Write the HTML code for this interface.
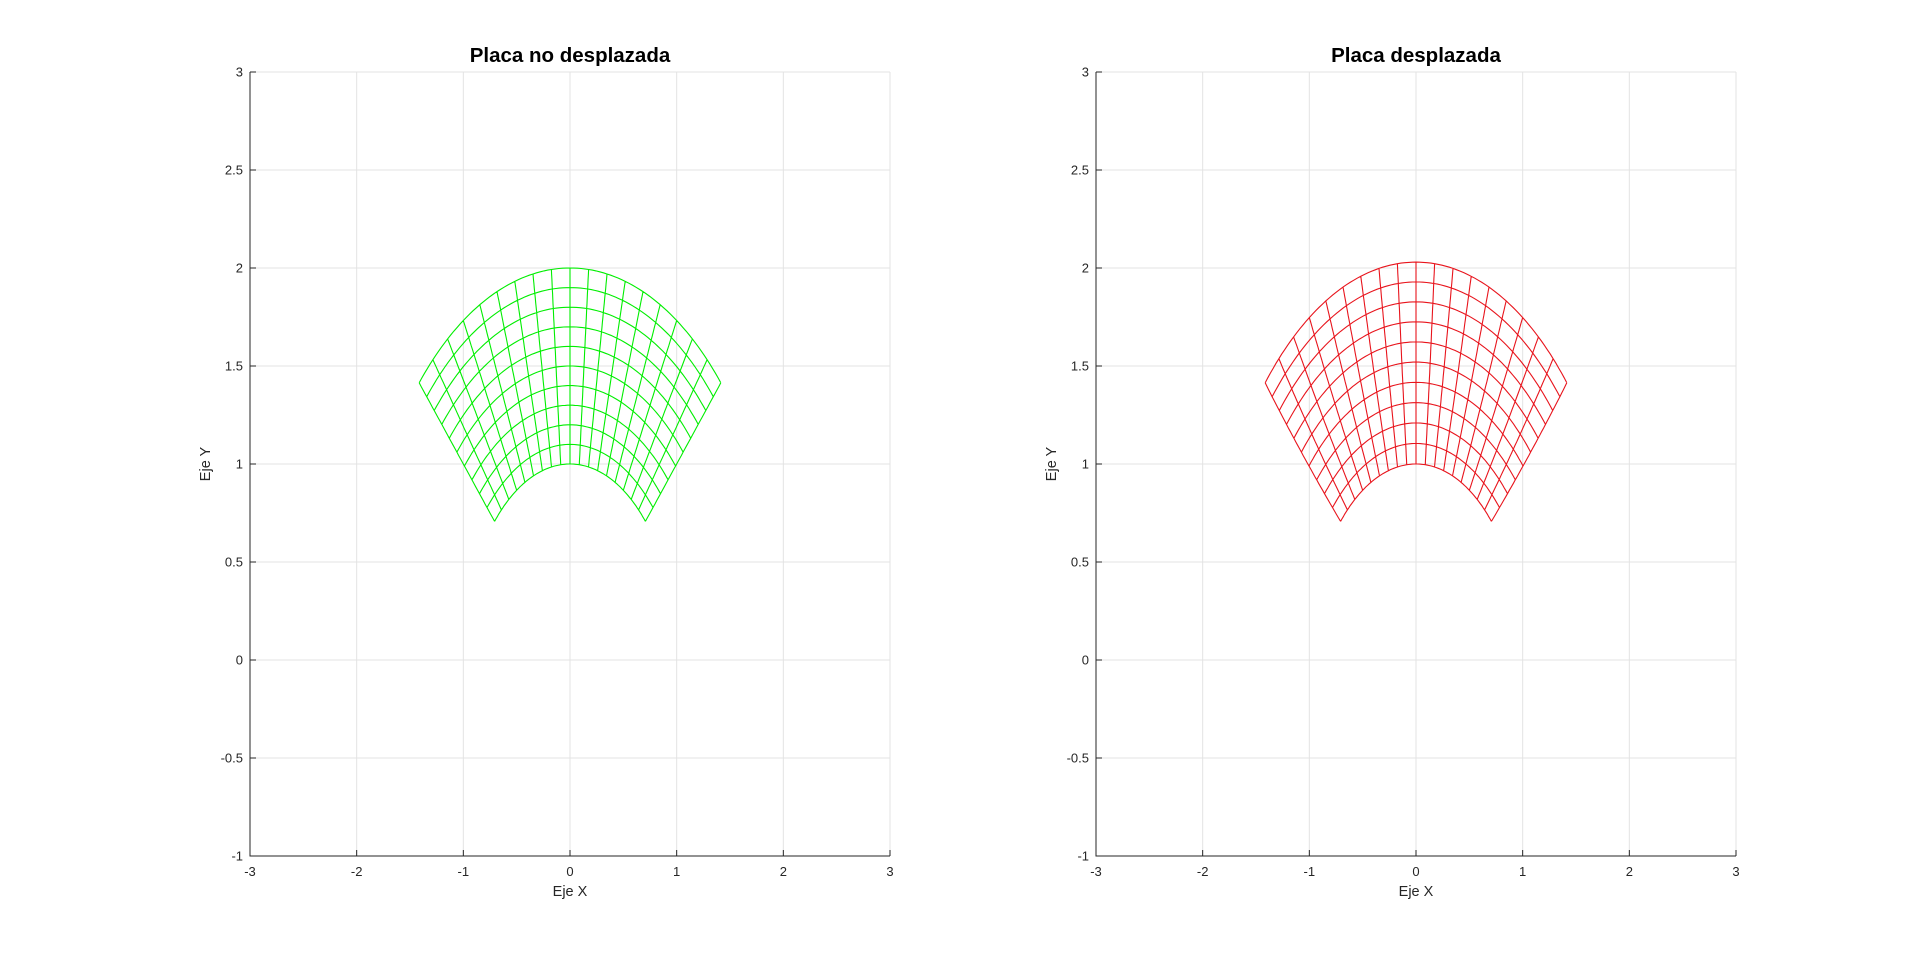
<!DOCTYPE html>
<html><head><meta charset="utf-8"><style>
html,body{margin:0;padding:0;background:#fff;}
svg{display:block;font-family:"Liberation Sans",Arial,sans-serif;}
</style></head><body>
<svg id="s" width="1920" height="963" viewBox="0 0 1920 963" xmlns="http://www.w3.org/2000/svg"></svg>
<script>
const s=document.getElementById('s');
let h='';
function axes(L,R,T,B,title,color,deform){
  const sx=(R-L)/6, sy=(B-T)/4;
  const X=x=>L+(x+3)*sx, Y=y=>B-(y+1)*sy;
  for(let i=-3;i<=3;i++){h+=`<line x1="${X(i)}" y1="${T}" x2="${X(i)}" y2="${B}" stroke="#e3e3e3" stroke-width="1"/>`;}
  for(let j=-1;j<=3;j+=0.5){h+=`<line x1="${L}" y1="${Y(j)}" x2="${R}" y2="${Y(j)}" stroke="#e3e3e3" stroke-width="1"/>`;}
  const pt=(r,t)=>{let x=r*Math.cos(t),y=r*Math.sin(t);
    if(deform){const f=Math.sin(2*(t-Math.PI/4));y+=0.03*(r-1)*f+0.02*(r-1)*(2-r)*f;x+=0.04*(r-1)*(2-r)*Math.cos(t)*2;}
    return [X(x),Y(y)];};
  const nr=10,nt=18;
  let d='';
  for(let i=0;i<=nr;i++){const r=1+i/nr;let p=[];for(let k=0;k<=90;k++){const t=Math.PI/4+k/90*Math.PI/2;p.push(pt(r,t).map(v=>v.toFixed(1)).join(','));}d+='M'+p.join('L');}
  for(let k=0;k<=nt;k++){const t=Math.PI/4+k/nt*Math.PI/2;let p=[];for(let i=0;i<=40;i++){p.push(pt(1+i/40,t).map(v=>v.toFixed(1)).join(','));}d+='M'+p.join('L');}
  h+=`<path d="${d}" fill="none" stroke="${color}" stroke-width="1.1"/>`;
  h+=`<line x1="${L}" y1="${T}" x2="${L}" y2="${B+0.5}" stroke="#262626" stroke-width="1"/>`;
  h+=`<line x1="${L}" y1="${B}" x2="${R}" y2="${B}" stroke="#262626" stroke-width="1"/>`;
  for(let i=-3;i<=3;i++){h+=`<line x1="${X(i)}" y1="${B}" x2="${X(i)}" y2="${B-6}" stroke="#262626"/>`;
    h+=`<text x="${X(i)}" y="${B+20}" font-size="13" fill="#262626" text-anchor="middle">${i}</text>`;}
  for(let j=-1;j<=3;j+=0.5){h+=`<line x1="${L}" y1="${Y(j)}" x2="${L+6}" y2="${Y(j)}" stroke="#262626"/>`;
    h+=`<text x="${L-7}" y="${Y(j)+4.5}" font-size="13" fill="#262626" text-anchor="end">${j}</text>`;}
  h+=`<text x="${(L+R)/2}" y="${B+40}" font-size="14.5" fill="#262626" text-anchor="middle">Eje X</text>`;
  h+=`<text transform="translate(${L-40},${(T+B)/2}) rotate(-90)" font-size="14.5" fill="#262626" text-anchor="middle">Eje Y</text>`;
  h+=`<text x="${(L+R)/2}" y="${T-10}" font-size="20.5" font-weight="bold" fill="#000" text-anchor="middle">${title}</text>`;
}
axes(250,890,72,856,'Placa no desplazada','#00ee00',false);
axes(1096,1736,72,856,'Placa desplazada','#e8141c',true);
s.innerHTML=h;
</script>
</body></html>
